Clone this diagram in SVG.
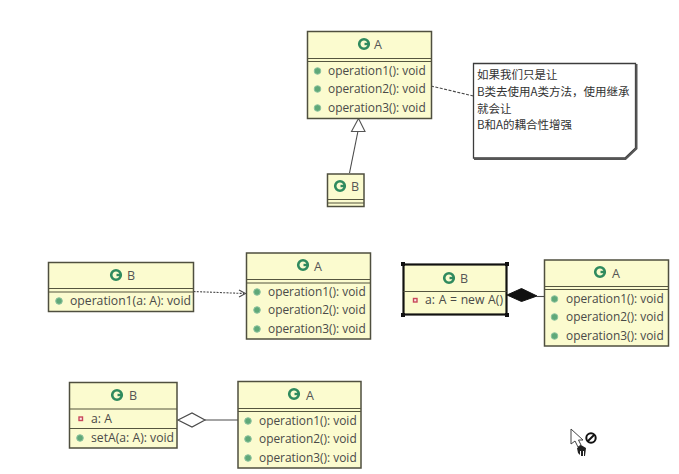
<svg xmlns="http://www.w3.org/2000/svg" width="679" height="474" viewBox="0 0 679 474">
<style>
text{font-family:"Open Sans","Liberation Sans","Noto Sans CJK SC",sans-serif;font-size:12.2px;fill:#4a4a48}
text.op{font-size:11.9px}
.box{fill:#fbfbcf;stroke:#4f4f3f;stroke-width:1.5}
.sep{fill:none;stroke:#55553f;stroke-width:1.2}
.cg{fill:none;stroke:#2f8a5e;stroke-width:2.6}
.ci{fill:#2f8a5e;stroke:none}
.dot{fill:#5fa878;stroke:#8fc4a0;stroke-width:1}
.pv{fill:#fbeaea;stroke:#c8485a;stroke-width:1.4}
text.name{font-size:12.5px;fill:#555}
.hnd{fill:#111}
.note{fill:#fff;stroke:#3c3c3c;stroke-width:1.3}
text.nt{font-family:"Noto Sans CJK SC","Liberation Sans",sans-serif;font-size:11.5px;fill:#333}
.ln{fill:none;stroke:#4a4a4a;stroke-width:1.1}
</style>
<defs>
<g id="c"><circle class="cg" cx="0" cy="0" r="4.800"/><path class="ci" d="M0.500-1.200H5.500V1.200H0.500Z"/></g>
<circle id="d" class="dot" r="3.300"/>
</defs>
<g id="connectors">
<path class="ln" d="M431 86L473.500 96" stroke-dasharray="3 1.500"/>
<path class="ln" d="M349.500 173L358 131"/>
<path d="M358.500 118.500L351.500 131.500L365 131.500Z" fill="#fff" stroke="#555" stroke-width="1.100"/>
<path class="ln" d="M193.500 291.500L244 293.500" stroke-dasharray="2 1.300" stroke-width="1.300"/>
<path class="ln" d="M239 290L245.500 293.500L239 297"/>
<path class="ln" d="M537 296.500H544.500"/>
<path d="M507 295L521.500 288.500L537 296L521.500 301.500Z" fill="#111" stroke="#111"/>
<path class="ln" d="M205 420H238" stroke-width="1.300"/>
<path d="M178 420L192 413L205 420L192 427Z" fill="#fff" stroke="#4a4a4a" stroke-width="1.200"/>
</g>
<g id="A1">
<rect class="box" x="307.500" y="31.500" width="124" height="87"/>
<path class="sep" d="M307.500 58.500H431.500M307.500 61.500H431.500"/>
<use href="#c" x="364" y="44"/><text class="name" x="374" y="49">A</text>
<use href="#d" x="317.500" y="71"/><text class="op" x="328" y="75">operation1(): void</text>
<use href="#d" x="317.500" y="89"/><text class="op" x="328" y="93">operation2(): void</text>
<use href="#d" x="317.500" y="108"/><text class="op" x="328" y="112">operation3(): void</text>
</g>
<g id="note">
<path class="note" d="M473.500 63.500H635.500V148L625 158H473.500Z"/>
<path fill="none" stroke="#555" stroke-width="2" d="M636.500 64V148.500L625.500 159H474"/>
<text class="nt" x="477" y="79">如果我们只是让</text>
<text class="nt" x="477" y="96">B类去使用A类方法，使用继承</text>
<text class="nt" x="477" y="113">就会让</text>
<text class="nt" x="477" y="129">B和A的耦合性增强</text>
</g>
<g id="B1">
<rect class="box" x="327.500" y="174" width="36.500" height="32.500"/>
<path class="sep" d="M327.500 199.500H364M327.500 203H364"/>
<use href="#c" x="340" y="186"/><text class="name" x="351" y="191">B</text>
</g>
<g id="B2">
<rect class="box" x="48.500" y="262.500" width="145" height="49"/>
<path class="sep" d="M48.500 288.500H193.500M48.500 292H193.500"/>
<use href="#c" x="116" y="275"/><text class="name" x="127" y="280">B</text>
<use href="#d" x="59" y="301"/><text x="70" y="305">operation1(a: A): void</text>
</g>
<g id="A2">
<rect class="box" x="246.500" y="253" width="124" height="86"/>
<path class="sep" d="M246.500 279.500H370.500M246.500 283H370.500"/>
<use href="#c" x="303" y="265"/><text class="name" x="314" y="271">A</text>
<use href="#d" x="257" y="292"/><text class="op" x="268" y="296">operation1(): void</text>
<use href="#d" x="257" y="310"/><text class="op" x="268" y="314">operation2(): void</text>
<use href="#d" x="257" y="329"/><text class="op" x="268" y="333">operation3(): void</text>
</g>
<g id="B3">
<rect class="box" x="403.500" y="264.500" width="103" height="50"/>
<path fill="none" stroke="#111" stroke-width="2" d="M403.500 264.500H506.500V314.500H403.500Z"/>
<path class="sep" d="M403.500 291.500H506.500"/>
<path class="hnd" d="M401 262h4v4h-4zM505 262h4v4h-4zM401 313h4v4h-4zM505 313h4v4h-4z"/>
<use href="#c" x="449" y="278"/><text class="name" x="460" y="283">B</text>
<rect class="pv" x="413.500" y="298.500" width="3.500" height="3.500"/><text x="425" y="304" word-spacing="0.500">a: A = new A()</text>
</g>
<g id="A3">
<rect class="box" x="544.500" y="260" width="124" height="86"/>
<path class="sep" d="M544.500 286.500H668.500M544.500 289.500H668.500"/>
<use href="#c" x="600" y="272"/><text class="name" x="612" y="278">A</text>
<use href="#d" x="554.500" y="299"/><text class="op" x="566" y="303">operation1(): void</text>
<use href="#d" x="554.500" y="317"/><text class="op" x="566" y="321">operation2(): void</text>
<use href="#d" x="554.500" y="336"/><text class="op" x="566" y="340">operation3(): void</text>
</g>
<g id="B4">
<rect class="box" x="69.500" y="382.500" width="107.500" height="65.500"/>
<path class="sep" d="M69.500 409H177M69.500 428.500H177"/>
<use href="#c" x="117" y="395"/><text class="name" x="129" y="400">B</text>
<rect class="pv" x="79" y="417" width="3.500" height="3.500"/><text x="91" y="423">a: A</text>
<use href="#d" x="80" y="438"/><text x="91" y="442">setA(a: A): void</text>
</g>
<g id="A4">
<rect class="box" x="238" y="381.500" width="123" height="86.500"/>
<path class="sep" d="M238 408.500H361M238 411.500H361"/>
<use href="#c" x="294" y="394"/><text class="name" x="306" y="400">A</text>
<use href="#d" x="248" y="421"/><text class="op" x="259" y="425">operation1(): void</text>
<use href="#d" x="248" y="439"/><text class="op" x="259" y="443">operation2(): void</text>
<use href="#d" x="248" y="458"/><text class="op" x="259" y="462">operation3(): void</text>
</g>
<g id="cursor">
<path d="M571 429V444L575 441L578 447L581 445L578.500 440L583 440Z" fill="#fff" stroke="#444"/>
<path d="M577 448L581 445L586 448L585 456H584V451H583V456H581V451H580V455L578 453Z" fill="#222"/>
<circle cx="591" cy="438" r="4.700" fill="none" stroke="#111" stroke-width="2"/>
<path d="M587.500 441.500L594.500 434.500" stroke="#111" stroke-width="2"/>
</g>
</svg>
